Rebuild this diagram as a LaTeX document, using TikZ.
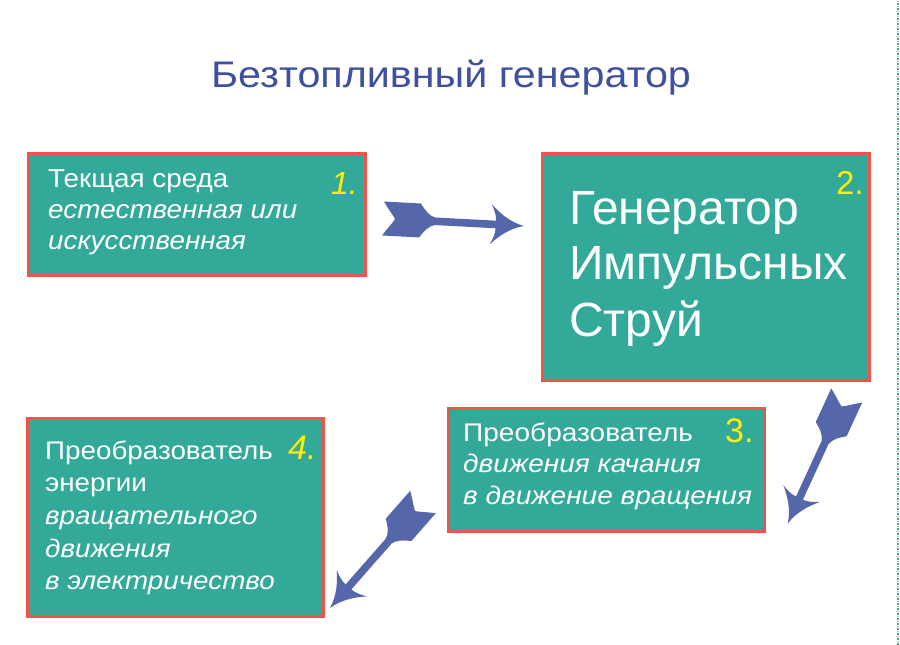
\documentclass[tikz,border=0pt]{standalone}
\usepackage{fontspec}
\setmainfont{Liberation Sans}
\usetikzlibrary{calc}
\definecolor{boxfill}{RGB}{51,169,153}
\definecolor{boxline}{RGB}{238,84,76}
\definecolor{arrowblue}{RGB}{85,103,170}
\definecolor{titleblue}{RGB}{63,80,158}
\definecolor{numyellow}{RGB}{255,238,0}
\definecolor{edgegray}{RGB}{185,185,185}
\tikzset{
  stagebox/.style={draw=boxline, line width=3pt, fill=boxfill, rectangle, inner sep=0pt},
  txt/.style={text=white, inner sep=0pt, anchor=base west},
  numlabel/.style={text=numyellow, inner sep=0pt, anchor=base west},
  stretch/.style={xscale=#1, transform shape},
  fletch/.pic={
    \fill[arrowblue] (0,17) -- (37,17)
      .. controls (42,10) and (46,5) .. (52,3.8) -- (113,3.8)
      .. controls (113,9) and (111,14) .. (108,20)
      .. controls (118,10) and (128,3) .. (141,0)
      .. controls (128,-3) and (118,-10) .. (108,-20)
      .. controls (111,-14) and (113,-9) .. (113,-3.8) -- (52,-3.8)
      .. controls (46,-5) and (42,-10) .. (37,-17) -- (0,-17)
      .. controls (6,-8) and (10,-4) .. (12,0)
      .. controls (10,4) and (6,8) .. (0,17) -- cycle;
  }
}
\begin{document}
\begin{tikzpicture}[x=1pt,y=1pt]
\useasboundingbox (0,0) rectangle (900,645);
\fill[white] (0,0) rectangle (900,645);

% right edge dashed line
\draw[boxfill, line width=1.2pt, dash pattern=on 2pt off 3pt] (898,0) -- (898,645);
\draw[edgegray, line width=1.2pt, dash pattern=on 1.5pt off 3.5pt, dash phase=2.5pt] (898,0) -- (898,645);

% title
\node[text=titleblue, inner sep=0pt, anchor=base, font=\fontsize{37}{40}\selectfont, stretch=1.115] (title) at (451,557) {Безтопливный генератор};

% boxes
\node[stagebox, minimum width=337pt, minimum height=122pt] (b1) at (197,430.5) {};
\node[stagebox, minimum width=326.5pt, minimum height=227.5pt] (b2) at (705.75,377.75) {};
\node[stagebox, minimum width=315.5pt, minimum height=123.5pt] (b3) at (606.25,174.75) {};
\node[stagebox, minimum width=295.5pt, minimum height=198.5pt] (b4) at (175.25,127.25) {};

% box 1 text
\begin{scope}[every node/.append style={font=\fontsize{26}{30}\selectfont, stretch=1.07}]
\node[txt] (t1a) at (48,457) {Текщая среда};
\node[txt] (t1b) at (48,426) {\itshape естественная или};
\node[txt] (t1c) at (48,395) {\itshape искусственная};
\end{scope}
\node[numlabel, font=\fontsize{32}{36}\selectfont\itshape] (n1) at (331,450) {1.};

% box 2 text
\begin{scope}[every node/.append style={font=\fontsize{48}{56}\selectfont}]
\node[txt] (t2a) at (569,420) {Генератор};
\node[txt] (t2b) at (569,365) {Импульсных};
\node[txt] (t2c) at (569,308) {Струй};
\end{scope}
\node[numlabel, font=\fontsize{33}{36}\selectfont] (n2) at (836,450) {2.};

% box 3 text
\begin{scope}[every node/.append style={font=\fontsize{25.5}{30}\selectfont, stretch=1.1}]
\node[txt] (t3a) at (463,203) {Преобразователь};
\node[txt] (t3b) at (463,172) {\itshape движения качания};
\node[txt] (t3c) at (463,140) {\itshape в движение вращения};
\end{scope}
\node[numlabel, font=\fontsize{34}{36}\selectfont] (n3) at (725,202) {3.};

% box 4 text
\begin{scope}[every node/.append style={font=\fontsize{25.5}{30}\selectfont, stretch=1.09}]
\node[txt] (t4a) at (45,185) {Преобразователь};
\node[txt] (t4b) at (45,153) {энергии};
\node[txt] (t4c) at (45,120) {\itshape вращательного};
\node[txt] (t4d) at (45,87) {\itshape движения};
\node[txt] (t4e) at (45,55) {\itshape в электричество};
\end{scope}
\node[numlabel, font=\fontsize{34}{36}\selectfont\itshape] (n4) at (288,185) {4.};

% arrow end points
\coordinate (a1tail) at (383,426.5);
\coordinate (a1tip) at (524,419);
\coordinate (a2tail) at (846.7,249.5);
\coordinate (a2tip) at (788,122);
\coordinate (a3tail) at (423,143);
\coordinate (a3tip) at (330,37);

\path let \p1=($(a1tip)-(a1tail)$), \n1={atan2(\y1,\x1)} in (a1tail) pic[rotate=\n1] {fletch};
\path let \p1=($(a2tip)-(a2tail)$), \n1={atan2(\y1,\x1)} in (a2tail) pic[rotate=\n1] {fletch};
\path let \p1=($(a3tip)-(a3tail)$), \n1={atan2(\y1,\x1)} in (a3tail) pic[rotate=\n1] {fletch};
\end{tikzpicture}
\end{document}
